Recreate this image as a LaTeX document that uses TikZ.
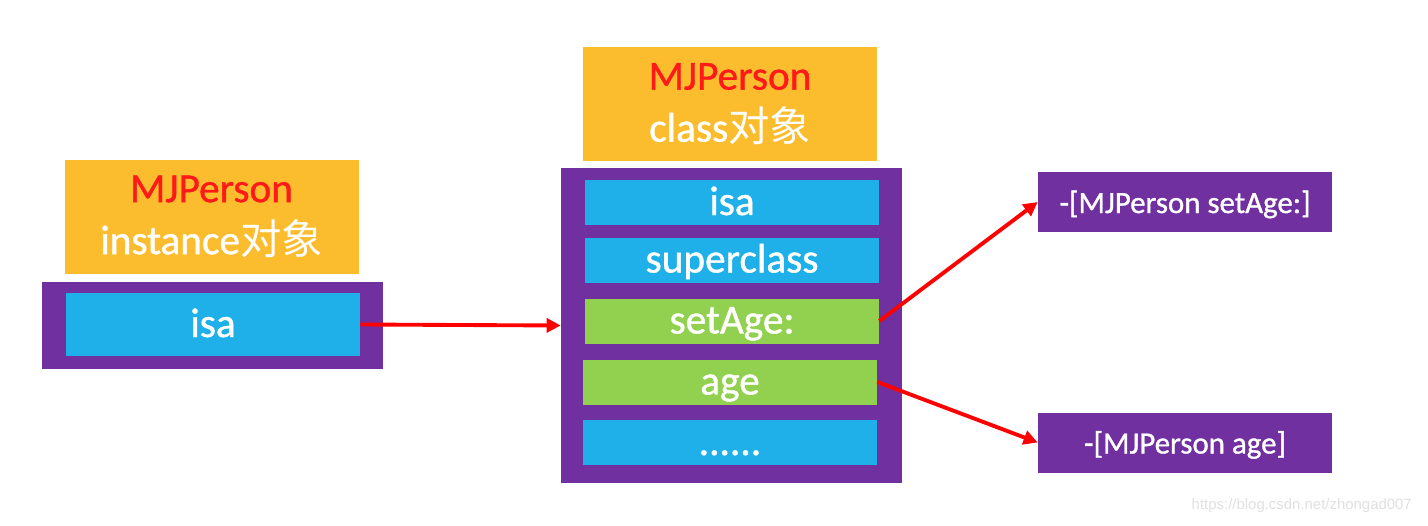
\documentclass[tikz,border=0pt]{standalone}
\usepackage{fontspec}
\setmainfont{Carlito}[FakeBold=1]
\newfontfamily\cjk{Noto Sans CJK SC}
\newfontfamily\wmfont{Liberation Sans}
\usepackage{tikz}
\usetikzlibrary{arrows.meta}

\definecolor{hdorange}{HTML}{FBBD2E}
\definecolor{objpurple}{HTML}{7030A0}
\definecolor{cellblue}{HTML}{1FB0EA}
\definecolor{cellgreen}{HTML}{92D050}
\definecolor{txtred}{HTML}{FF1A1A}

\tikzset{
	header/.style={fill=hdorange, minimum width=5.88cm, minimum height=2.28cm, inner sep=0pt,
		align=center, text=white, font=\fontsize{23.5}{29.6}\selectfont},
	objbox/.style={fill=objpurple, minimum width=6.82cm, inner sep=0pt},
	cell/.style={minimum width=5.88cm, minimum height=0.88cm, inner sep=0pt, text=white,
		text height=0.7cm, text depth=0.2cm, font=\fontsize{23.5}{26}\selectfont},
	impbox/.style={fill=objpurple, minimum width=5.88cm, minimum height=1.2cm, inner sep=0pt,
		text=white, text height=0.59cm, text depth=0.15cm, font=\fontsize{17.6}{20}\selectfont},
	ptr/.style={red, line width=2.2pt, -{Triangle[length=8pt,width=8pt]}}
}

\begin{document}
\begin{tikzpicture}
	\useasboundingbox (0,0) rectangle (28.56,10.5);

	%instance object
	\node[header] (ihead) at (4.23,6.17) {\textcolor{txtred}{MJPerson}\\instance{\cjk 对象}};
	\node[objbox, minimum height=1.74cm] (ibox) at (4.25,3.99) {};
	\node[cell, fill=cellblue, minimum height=1.26cm] (iisa) at (4.26,4.01) {isa};

	%class object
	\node[header] (chead) at (14.6,8.42) {\textcolor{txtred}{MJPerson}\\class{\cjk 对象}};
	\node[objbox, minimum height=6.3cm] (cbox) at (14.63,3.99) {};
	\node[cell, fill=cellblue]  (cisa)   at (14.64,6.45) {isa};
	\node[cell, fill=cellblue]  (csuper) at (14.64,5.30) {superclass};
	\node[cell, fill=cellgreen] (csetage) at (14.64,4.08) {setAge:};
	\node[cell, fill=cellgreen] (cage)   at (14.6,2.86) {age};
	\node[cell, fill=cellblue]  (cmore)  at (14.6,1.65) {......};

	%method implementations
	\node[impbox] (impsetage) at (23.7,6.46) {-[MJPerson setAge:]};
	\node[impbox] (impage)    at (23.7,1.65) {-[MJPerson age]};

	%pointers
	\draw[ptr] (iisa.east) -- (cbox.west);
	\draw[ptr] (csetage.east) -- (impsetage.west);
	\draw[ptr] (cage.east) -- (impage.west);

	\node[anchor=east, text=black!12, font=\wmfont\fontsize{8.5}{10}\selectfont] (wmark) at (28.36,0.38) {https://blog.csdn.net/zhongad007};
\end{tikzpicture}
\end{document}
